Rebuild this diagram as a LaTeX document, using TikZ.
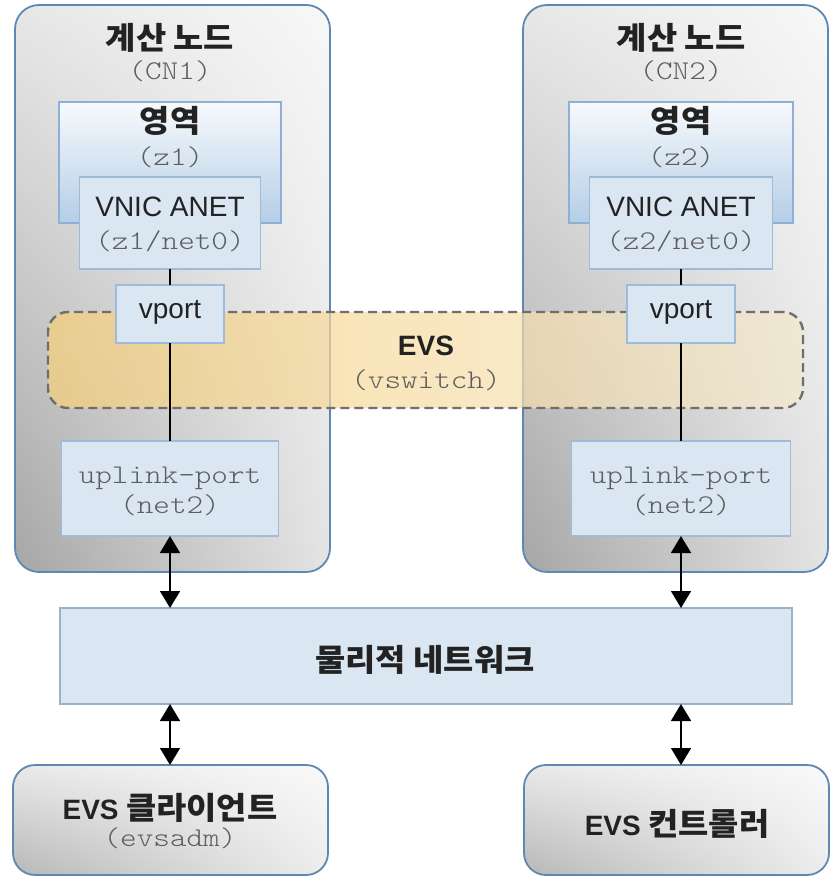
\documentclass[tikz,border=0pt]{standalone}
\usepackage{fontspec}
\setmainfont{Liberation Sans}
\setmonofont{lmmonolt10-regular.otf}[FakeStretch=1.17]
\newfontfamily\krfont{Noto Sans CJK KR}[FakeStretch=1.06]
\usetikzlibrary{arrows.meta,fadings}

\definecolor{cnblue}{HTML}{5F87B3}
\definecolor{cntop}{HTML}{E8E8E8}
\definecolor{cnmid}{HTML}{D4D4D4}
\definecolor{cnbot}{HTML}{A6A6A6}
\definecolor{boxfill}{HTML}{DAE6F2}
\definecolor{boxline}{HTML}{9EBBD9}
\definecolor{zonetop}{HTML}{F7FAFD}
\definecolor{zonebot}{HTML}{B5CDE6}
\definecolor{zoneline}{HTML}{8DB0D6}
\definecolor{evsleft}{HTML}{F7D07A}
\definecolor{evsright}{HTML}{F4E8CC}
\definecolor{evsline}{HTML}{6E6E6E}
\definecolor{txt}{HTML}{222222}
\definecolor{monogray}{HTML}{5E5E5E}

\tikzset{
  plain/.style={inner sep=0pt, outer sep=0pt},
  cnbox/.style={plain, rounded corners=24pt,
    preaction={top color=cntop, middle color=cnmid, bottom color=cnbot},
    preaction={fill=white, fill opacity=.7, path fading=west},
    draw=cnblue, line width=1.8pt},
  endbox/.style={plain, rounded corners=22pt,
    preaction={top color=cntop!90!white, bottom color=cnbot!80!white},
    preaction={fill=white, fill opacity=.75, path fading=west},
    draw=cnblue, line width=1.8pt},
  zonebox/.style={plain, top color=zonetop, bottom color=zonebot,
    draw=zoneline, line width=1.5pt},
  portbox/.style={plain, fill=boxfill, draw=boxline, line width=1.4pt},
  evsband/.style={plain, rounded corners=20pt,
    preaction={left color=evsleft, right color=evsright, fill opacity=.7},
    draw=evsline, line width=2.4pt, dash pattern=on 9pt off 5pt},
  krlabel/.style={plain, anchor=base, text=txt,
    font=\krfont\bfseries\fontsize{31}{34}\selectfont},
  sanslabel/.style={plain, anchor=base, text=txt,
    font=\fontsize{28}{32}\selectfont},
  monolabel/.style={plain, anchor=base, text=monogray,
    font=\ttfamily\fontsize{27}{30}\selectfont},
  wire/.style={line width=1.1pt, black},
  dblarrow/.style={line width=1.6pt, black,
    {Triangle[width=20pt,length=17pt]}-{Triangle[width=20pt,length=17pt]}}
}

\begin{document}
\begin{tikzpicture}[x=1pt, y=-1pt]
\useasboundingbox (0,0) rectangle (830,877);

% compute nodes
\node[cnbox, minimum width=315pt, minimum height=567pt] (cn1) at (172.5,288.5) {};
\node[cnbox, minimum width=305pt, minimum height=567pt] (cn2) at (675.5,288.5) {};

\node[krlabel] (cn1t) at (170,50) {계산 노드};
\node[monolabel] (cn1s) at (170,80) {(CN1)};
\node[krlabel] (cn2t) at (681,50) {계산 노드};
\node[monolabel] (cn2s) at (681,80) {(CN2)};

% zones
\node[zonebox, minimum width=222pt, minimum height=121pt] (zone1) at (170,162.5) {};
\node[zonebox, minimum width=224pt, minimum height=121pt] (zone2) at (681,162.5) {};
\node[krlabel] (zone1t) at (170,133) {영역};
\node[monolabel] (zone1s) at (170,166) {(z1)};
\node[krlabel] (zone2t) at (681,133) {영역};
\node[monolabel] (zone2s) at (681,166) {(z2)};

% VNICs
\node[portbox, minimum width=181pt, minimum height=92pt] (vnic1) at (170,223) {};
\node[portbox, minimum width=183pt, minimum height=92pt] (vnic2) at (681,223) {};
\node[sanslabel] (vnic1t) at (170,217) {VNIC ANET};
\node[monolabel] (vnic1s) at (170,249) {(z1/net0)};
\node[sanslabel] (vnic2t) at (681,217) {VNIC ANET};
\node[monolabel] (vnic2s) at (681,249) {(z2/net0)};

% virtual switch band
\node[evsband, minimum width=755pt, minimum height=96pt] (evs) at (425.5,360) {};
\node[sanslabel, font=\bfseries\fontsize{28}{32}\selectfont] (evst) at (426,355) {EVS};
\node[monolabel] (evss) at (426,388) {(vswitch)};

% vports
\node[portbox, minimum width=108pt, minimum height=58pt] (vport1) at (170,314) {};
\node[portbox, minimum width=108pt, minimum height=58pt] (vport2) at (681,314) {};
\node[sanslabel] (vport1t) at (170,318) {vport};
\node[sanslabel] (vport2t) at (681,318) {vport};

% uplink ports
\node[portbox, minimum width=217pt, minimum height=95pt] (up1) at (170,488.5) {};
\node[portbox, minimum width=219pt, minimum height=95pt] (up2) at (681,488.5) {};
\node[monolabel] (up1t) at (170,483) {uplink-port};
\node[monolabel] (up1s) at (170,513) {(net2)};
\node[monolabel] (up2t) at (681,483) {uplink-port};
\node[monolabel] (up2s) at (681,513) {(net2)};

% physical network
\node[portbox, draw=boxline!85!gray, minimum width=732pt, minimum height=96pt] (net) at (426,656) {};
\node[krlabel] (nett) at (425,671) {물리적 네트워크};

% EVS client and controller
\node[endbox, minimum width=315pt, minimum height=110pt] (client) at (170.5,820) {};
\node[endbox, minimum width=305pt, minimum height=110pt] (ctrl) at (676.5,820) {};
\node[krlabel] (clientt) at (170,819) {{\fontspec{Liberation Sans}\bfseries\fontsize{28}{30}\selectfont EVS} 클라이언트};
\node[monolabel] (clients) at (170,846) {(evsadm)};
\node[krlabel] (ctrlt) at (677,835) {{\fontspec{Liberation Sans}\bfseries\fontsize{28}{30}\selectfont EVS} 컨트롤러};

% internal links
\draw[wire] (vnic1.south) -- (vport1.north);
\draw[wire] (vport1.south) -- (up1.north);
\draw[wire] (vnic2.south) -- (vport2.north);
\draw[wire] (vport2.south) -- (up2.north);

% network links
\draw[dblarrow] (up1.south) -- (net.north -| up1.south);
\draw[dblarrow] (up2.south) -- (net.north -| up2.south);
\draw[dblarrow] (net.south -| up1.south) -- (client.north -| up1.south);
\draw[dblarrow] (net.south -| up2.south) -- (ctrl.north -| up2.south);
\end{tikzpicture}
\end{document}
